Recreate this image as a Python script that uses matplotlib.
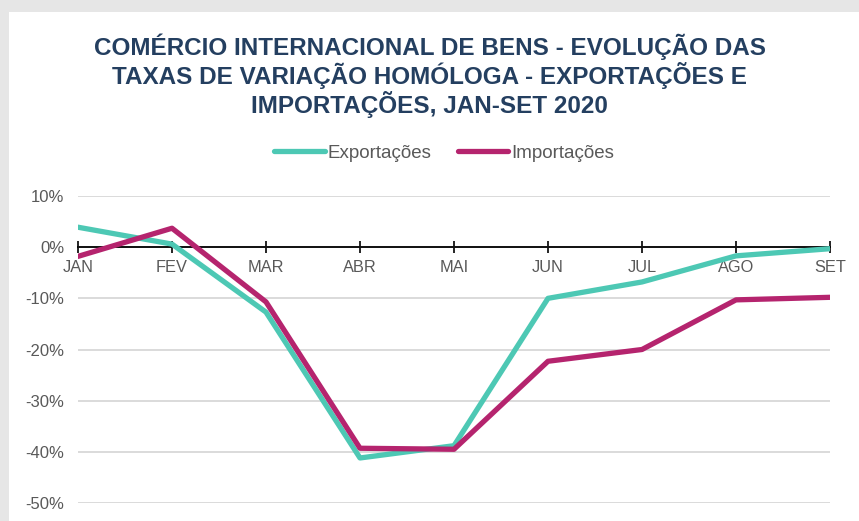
import matplotlib.pyplot as plt
from matplotlib.patches import Rectangle
from matplotlib.ticker import FuncFormatter

meses = ["JAN", "FEV", "MAR", "ABR", "MAI", "JUN", "JUL", "AGO", "SET"]
exportacoes = [3.9, 0.6, -12.7, -41.2, -38.8, -10.0, -6.8, -1.7, -0.3]
importacoes = [-1.8, 3.7, -10.7, -39.3, -39.5, -22.3, -20.0, -10.3, -9.8]

cor_exp = "#4DC8B4"
cor_imp = "#B5246E"
cinza = "#595959"

plt.rcParams['font.family'] = ['Liberation Sans', 'DejaVu Sans']

fig = plt.figure(figsize=(8.59, 5.21), dpi=100)
fig.patch.set_facecolor("#e6e6e6")
fig.patches.append(Rectangle((9 / 859, 0), 1, 1 - 12 / 521, transform=fig.transFigure,
                             facecolor="white", edgecolor="none", zorder=-1))

ax = fig.add_axes([78 / 859, 1 - 503 / 521, (830 - 78) / 859, (503 - 196) / 521])
ax.set_facecolor("none")

x = list(range(len(meses)))
ax.plot(x, exportacoes, color=cor_exp, lw=3.8, label="Exportações", solid_capstyle="round", zorder=3)
ax.plot(x, importacoes, color=cor_imp, lw=3.8, label="Importações", solid_capstyle="round", zorder=4)

ax.set_xlim(0, len(meses) - 1)
ax.set_ylim(-50, 10)
ax.set_yticks(range(-50, 11, 10))
ax.yaxis.set_major_formatter(FuncFormatter(lambda v, p: f"{v:.0f}%"))
ax.grid(axis="y", color="#d4d4d4", lw=1.2)
ax.set_axisbelow(True)

for s in ["top", "right", "left"]:
    ax.spines[s].set_visible(False)
ax.spines["bottom"].set_position(("data", 0))
ax.spines["bottom"].set_color("black")
ax.spines["bottom"].set_linewidth(1.3)
ax.spines["bottom"].set_zorder(2)

ax.set_xticks(x)
ax.set_xticklabels(meses)
ax.tick_params(axis="x", direction="inout", length=9, width=1.2, color="black",
               labelsize=11.8, labelcolor=cinza, pad=5)
ax.tick_params(axis="y", length=0, labelsize=12, labelcolor=cinza, pad=10)

fig.text(0.5, 1 - 76 / 521,
         "COMÉRCIO INTERNACIONAL DE BENS - EVOLUÇÃO DAS\nTAXAS DE VARIAÇÃO HOMÓLOGA - EXPORTAÇÕES E\nIMPORTAÇÕES, JAN-SET 2020",
         ha="center", va="center", fontsize=17.5, fontweight="bold", color="#243F60",
         linespacing=1.1)

fig.legend(loc="center", bbox_to_anchor=(444 / 859, 1 - 153 / 521), ncol=2, frameon=False,
           fontsize=13.5, handlelength=2.7, handletextpad=0.15, columnspacing=1.4,
           labelcolor=cinza)

fig.savefig("out.png", dpi=100, facecolor=fig.get_facecolor())
